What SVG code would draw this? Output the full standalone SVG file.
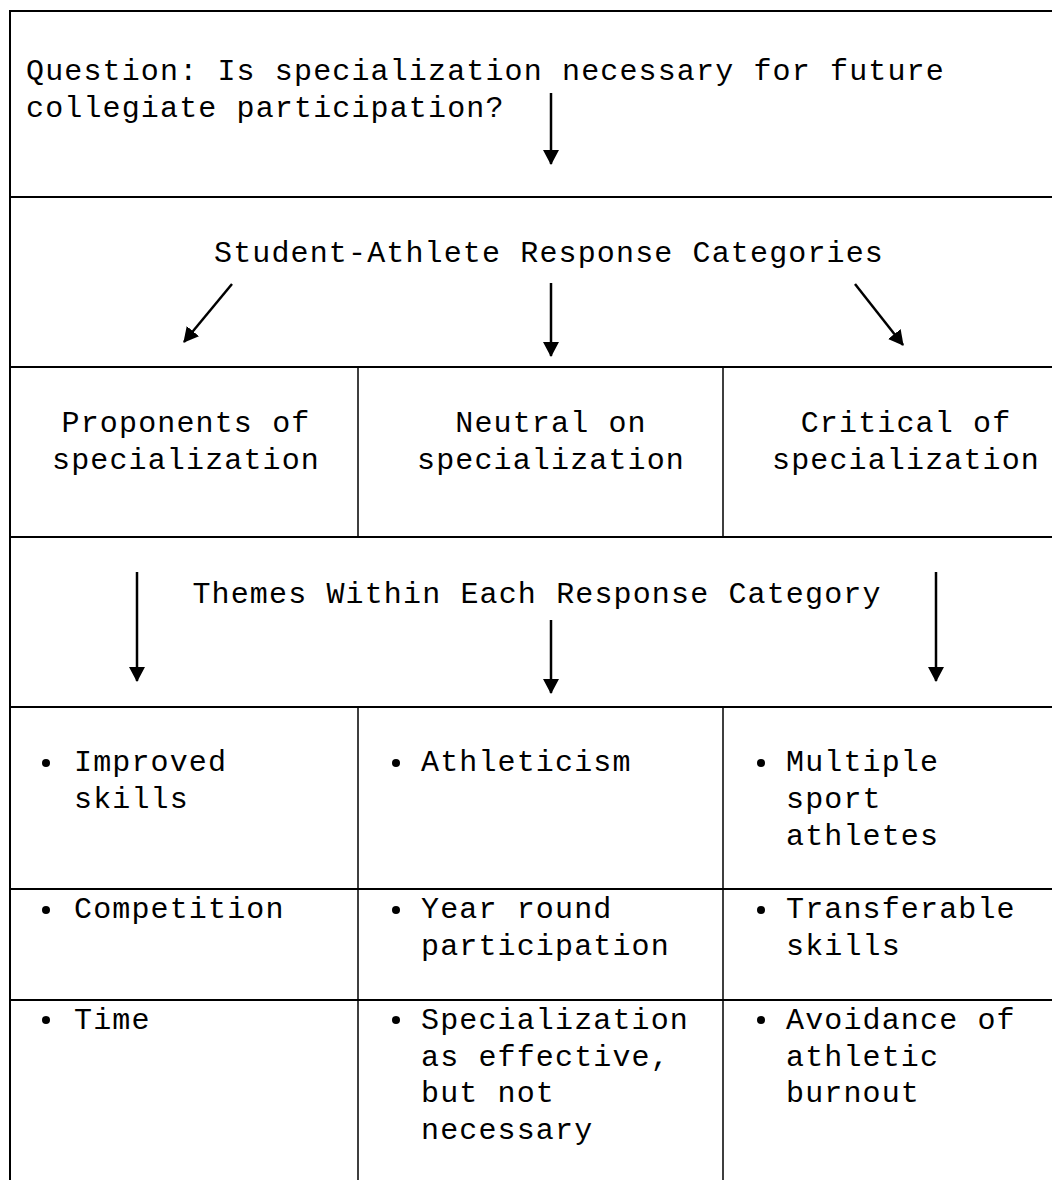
<svg xmlns="http://www.w3.org/2000/svg" width="1052" height="1180" viewBox="0 0 1052 1180">
<style>
text{font-family:"Liberation Mono","Courier New",monospace;font-size:30px;letter-spacing:1.14px;fill:#000}
.c{text-anchor:middle}
.b{stroke:#000;stroke-width:2;fill:none}
.v{stroke:#000;stroke-width:1.5;fill:none}
.a{stroke:#000;stroke-width:2.5;fill:none;marker-end:url(#ah)}
</style>
<defs>
<marker id="ah" viewBox="0 0 15 16" refX="14" refY="8" markerWidth="15" markerHeight="16" markerUnits="userSpaceOnUse" orient="auto">
<path d="M0,0 L15,8 L0,16 z" fill="#000"/>
</marker>
</defs>
<rect width="1052" height="1180" fill="#fff"/>
<g id="grid">
<path class="b" d="M1052,11 H10 V1180"/>
<path class="b" d="M10,197 H1052 M10,367 H1052 M10,537 H1052 M10,707 H1052 M10,889 H1052 M10,1000 H1052"/>
<path class="v" d="M358,367 V537 M723,367 V537 M358,707 V1180 M723,707 V1180"/>
</g>
<g id="question">
<text x="26" y="80">Question: Is specialization necessary for future</text>
<text x="26" y="117">collegiate participation?</text>
</g>
<g id="categories">
<text class="c" x="549" y="262">Student-Athlete Response Categories</text>
</g>
<g id="proponents">
<text class="c" x="186" y="432">Proponents of</text>
<text class="c" x="186" y="469">specialization</text>
</g>
<g id="neutral">
<text class="c" x="551" y="432">Neutral on</text>
<text class="c" x="551" y="469">specialization</text>
</g>
<g id="critical">
<text class="c" x="906" y="432">Critical of</text>
<text class="c" x="906" y="469">specialization</text>
</g>
<g id="themes">
<text class="c" x="537" y="603">Themes Within Each Response Category</text>
</g>
<g id="bullets">
<circle cx="46" cy="763" r="4"/>
<circle cx="396" cy="763" r="4"/>
<circle cx="761" cy="763" r="4"/>
<circle cx="46" cy="910" r="4"/>
<circle cx="396" cy="910" r="4"/>
<circle cx="761" cy="910" r="4"/>
<circle cx="46" cy="1020" r="4"/>
<circle cx="396" cy="1020" r="4"/>
<circle cx="761" cy="1020" r="4"/>
</g>
<g id="improved-skills"><text x="74" y="771">Improved</text><text x="74" y="808">skills</text></g>
<g id="athleticism"><text x="421" y="771">Athleticism</text></g>
<g id="multiple-sport"><text x="786" y="771">Multiple</text><text x="786" y="808">sport</text><text x="786" y="845">athletes</text></g>
<g id="competition"><text x="74" y="918">Competition</text></g>
<g id="year-round"><text x="421" y="918">Year round</text><text x="421" y="955">participation</text></g>
<g id="transferable"><text x="786" y="918">Transferable</text><text x="786" y="955">skills</text></g>
<g id="time"><text x="74" y="1029">Time</text></g>
<g id="spec-effective"><text x="421" y="1029">Specialization</text><text x="421" y="1066">as effective,</text><text x="421" y="1102">but not</text><text x="421" y="1139">necessary</text></g>
<g id="burnout"><text x="786" y="1029">Avoidance of</text><text x="786" y="1066">athletic</text><text x="786" y="1102">burnout</text></g>
<g id="connectors">
<line class="a" x1="551" y1="93" x2="551" y2="164"/>
<line class="a" x1="232" y1="284" x2="184" y2="342"/>
<line class="a" x1="551" y1="283" x2="551" y2="356"/>
<line class="a" x1="855" y1="284" x2="903" y2="345"/>
<line class="a" x1="137" y1="572" x2="137" y2="681"/>
<line class="a" x1="551" y1="620" x2="551" y2="693"/>
<line class="a" x1="936" y1="572" x2="936" y2="681"/>
</g>
</svg>
